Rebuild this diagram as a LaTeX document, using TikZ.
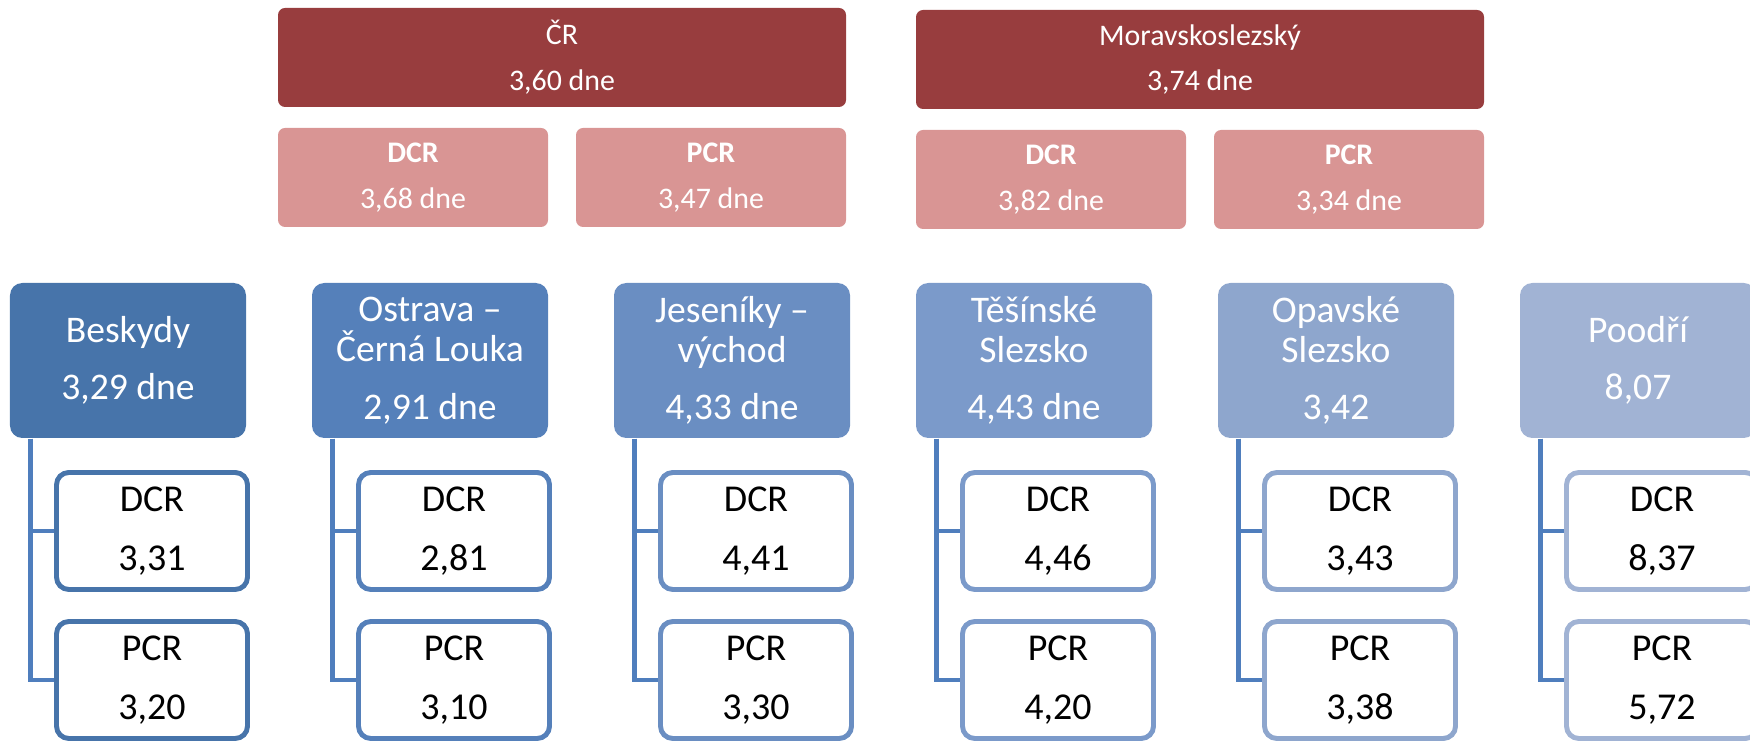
\documentclass[tikz,border=0pt]{standalone}
\usepackage{fontspec}
\setmainfont{Carlito}
\definecolor{crdark}{HTML}{983D3E}
\definecolor{crpale}{HTML}{D99594}
\definecolor{beskblue}{HTML}{4774AA}
\definecolor{ostrblue}{HTML}{5580BA}
\definecolor{jesblue}{HTML}{6A8EC2}
\definecolor{tesblue}{HTML}{7B9ACA}
\definecolor{opavblue}{HTML}{8EA6CD}
\definecolor{poodblue}{HTML}{A1B3D4}
\definecolor{connblue}{HTML}{4F7EBD}
\begin{document}
\begin{tikzpicture}[
  whole/.style={fill=crdark, rounded corners=2pt, text=white, align=center, inner sep=0pt,
                minimum width=5.68cm, minimum height=0.99cm, font=\fontsize{8.5}{13}\selectfont},
  half/.style={fill=crpale, rounded corners=2pt, text=white, align=center, inner sep=0pt,
               minimum width=2.70cm, minimum height=0.99cm, font=\fontsize{8.5}{13}\selectfont},
  district/.style={fill=#1, rounded corners=3.5pt, text=white, align=center, inner sep=0pt,
                   minimum width=2.36cm, minimum height=1.55cm, font=\fontsize{10.7}{11.5}\selectfont},
  leaf/.style={draw=#1, fill=white, line width=1.4pt, rounded corners=3.5pt, align=center,
               inner sep=0pt, minimum width=1.91cm, minimum height=1.17cm,
               font=\fontsize{10.8}{17}\selectfont},
  conn/.style={draw=connblue, line width=1.4pt},
]
\clip (0,0) rectangle (17.5,-7.43);

%% Top: whole country and the region
\node[whole] (cr)     at (5.62,-0.575)  {ČR\\3,60 dne};
\node[whole] (msk)    at (12.00,-0.595) {Moravskoslezský\\3,74 dne};
\node[half]  (crdcr)  at (4.13,-1.775)  {\textbf{DCR}\\3,68 dne};
\node[half]  (crpcr)  at (7.11,-1.775)  {\textbf{PCR}\\3,47 dne};
\node[half]  (mskdcr) at (10.51,-1.795) {\textbf{DCR}\\3,82 dne};
\node[half]  (mskpcr) at (13.49,-1.795) {\textbf{PCR}\\3,34 dne};

%% Districts
\node[district=beskblue] (besk) at (1.28,-3.605)  {Beskydy\\[4.8pt]3,29 dne};
\node[district=ostrblue] (ostr) at (4.30,-3.605)  {Ostrava –\\Černá Louka\\[4.8pt]2,91 dne};
\node[district=jesblue]  (jes)  at (7.32,-3.605)  {Jeseníky –\\východ\\[4.8pt]4,33 dne};
\node[district=tesblue]  (tes)  at (10.34,-3.605) {Těšínské\\Slezsko\\[4.8pt]4,43 dne};
\node[district=opavblue] (opav) at (13.36,-3.605) {Opavské\\Slezsko\\[4.8pt]3,42};
\node[district=poodblue] (pood) at (16.38,-3.605) {Poodří\\[4.8pt]8,07};

%% DCR / PCR under each district
\node[leaf=beskblue] (beskd) at (1.52,-5.31)  {DCR\\3,31};
\node[leaf=beskblue] (beskp) at (1.52,-6.80)  {PCR\\3,20};
\node[leaf=ostrblue] (ostrd) at (4.54,-5.31)  {DCR\\2,81};
\node[leaf=ostrblue] (ostrp) at (4.54,-6.80)  {PCR\\3,10};
\node[leaf=jesblue]  (jesd)  at (7.56,-5.31)  {DCR\\4,41};
\node[leaf=jesblue]  (jesp)  at (7.56,-6.80)  {PCR\\3,30};
\node[leaf=tesblue]  (tesd)  at (10.58,-5.31) {DCR\\4,46};
\node[leaf=tesblue]  (tesp)  at (10.58,-6.80) {PCR\\4,20};
\node[leaf=opavblue] (opavd) at (13.60,-5.31) {DCR\\3,43};
\node[leaf=opavblue] (opavp) at (13.60,-6.80) {PCR\\3,38};
\node[leaf=poodblue] (poodd) at (16.62,-5.31) {DCR\\8,37};
\node[leaf=poodblue] (poodp) at (16.62,-6.80) {PCR\\5,72};

%% Connectors
\draw[conn] ([xshift=0.21cm]besk.south west) |- (beskd.west);
\draw[conn] ([xshift=0.21cm]besk.south west) |- (beskp.west);
\draw[conn] ([xshift=0.21cm]ostr.south west) |- (ostrd.west);
\draw[conn] ([xshift=0.21cm]ostr.south west) |- (ostrp.west);
\draw[conn] ([xshift=0.21cm]jes.south west)  |- (jesd.west);
\draw[conn] ([xshift=0.21cm]jes.south west)  |- (jesp.west);
\draw[conn] ([xshift=0.21cm]tes.south west)  |- (tesd.west);
\draw[conn] ([xshift=0.21cm]tes.south west)  |- (tesp.west);
\draw[conn] ([xshift=0.21cm]opav.south west) |- (opavd.west);
\draw[conn] ([xshift=0.21cm]opav.south west) |- (opavp.west);
\draw[conn] ([xshift=0.21cm]pood.south west) |- (poodd.west);
\draw[conn] ([xshift=0.21cm]pood.south west) |- (poodp.west);

\end{tikzpicture}
\end{document}
